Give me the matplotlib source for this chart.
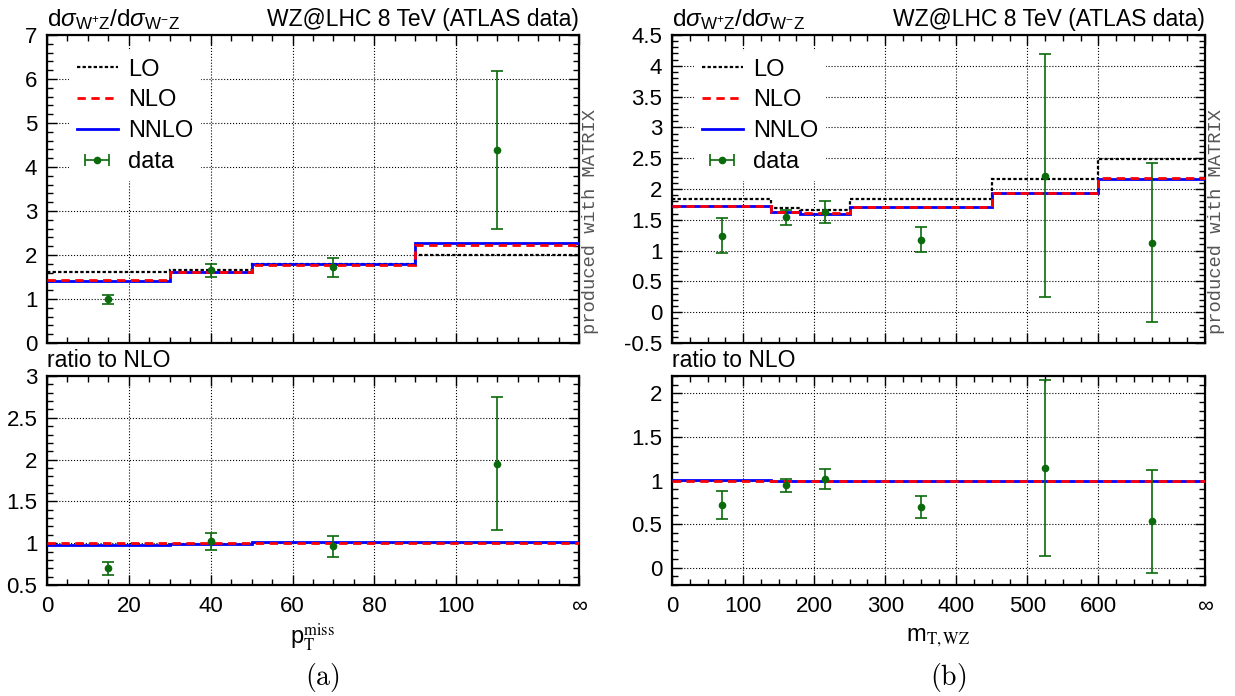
import numpy as np
import matplotlib
matplotlib.use("Agg")
import matplotlib.pyplot as plt
from matplotlib.lines import Line2D
from matplotlib.ticker import FixedLocator, MultipleLocator, FuncFormatter

plt.rcParams['font.family'] = ['Liberation Sans', 'DejaVu Sans']
plt.rcParams['mathtext.fontset'] = 'custom'
plt.rcParams['mathtext.rm'] = 'Liberation Sans'
plt.rcParams['mathtext.it'] = 'Liberation Sans:italic'
plt.rcParams['mathtext.sf'] = 'Liberation Sans'
plt.rcParams['axes.unicode_minus'] = False

# --- (a) missing transverse momentum, last edge stands for infinity
pt_edges = [0, 30, 50, 90, 130]
pt_lo = [1.62, 1.67, 1.79, 2.01]
pt_nlo = [1.43, 1.62, 1.775, 2.23]
pt_nnlo = [1.40, 1.61, 1.79, 2.27]
pt_x = [15, 40, 70, 110]
pt_data = [0.99, 1.65, 1.73, 4.39]
pt_dlo = [0.89, 1.50, 1.51, 2.59]
pt_dhi = [1.10, 1.80, 1.94, 6.19]
pt_rdata = [0.70, 1.024, 0.964, 1.948]
pt_rlo = [0.624, 0.924, 0.84, 1.152]
pt_rhi = [0.776, 1.124, 1.084, 2.744]
pt_xticks = [0, 20, 40, 60, 80, 100, 130]
pt_xlabels = ['0', '20', '40', '60', '80', '100', '∞']

# --- (b) transverse mass of the WZ system
mt_edges = [0, 140, 180, 250, 450, 600, 750]
mt_lo = [1.83, 1.69, 1.66, 1.84, 2.16, 2.49]
mt_nlo = [1.72, 1.63, 1.61, 1.70, 1.93, 2.18]
mt_nnlo = [1.73, 1.62, 1.60, 1.70, 1.93, 2.17]
mt_x = [70, 160, 215, 350, 525, 675]
mt_data = [1.24, 1.54, 1.63, 1.18, 2.21, 1.13]
mt_dlo = [0.955, 1.41, 1.44, 0.97, 0.25, -0.16]
mt_dhi = [1.53, 1.66, 1.81, 1.39, 4.19, 2.42]
mt_rdata = [0.724, 0.945, 1.017, 0.697, 1.143, 0.53]
mt_rlo = [0.56, 0.869, 0.90, 0.575, 0.137, -0.06]
mt_rhi = [0.884, 1.02, 1.13, 0.82, 2.149, 1.12]
mt_xticks = [0, 100, 200, 300, 400, 500, 600, 750]
mt_xlabels = ['0', '100', '200', '300', '400', '500', '600', '∞']

GREEN = '#0b6a0b'
W, H = 1235, 696


def pos(x0, x1, y0, y1):
    # pixel box -> figure fraction
    return [x0 / W, 1 - y1 / H, (x1 - x0) / W, (y1 - y0) / H]


def style(ax, edges, xticks, xminor, ylim, ymajor, yminor):
    ax.set_xlim(edges[0], edges[-1])
    ax.set_ylim(*ylim)
    ax.xaxis.set_major_locator(FixedLocator(xticks))
    ax.xaxis.set_minor_locator(MultipleLocator(xminor))
    ax.yaxis.set_major_locator(FixedLocator(ymajor))
    ax.yaxis.set_minor_locator(MultipleLocator(yminor))
    ax.yaxis.set_major_formatter(FuncFormatter(lambda v, p: f'{v:g}'))
    ax.tick_params(which='both', direction='in', top=True, right=True, width=1.0, labelsize=16)
    ax.tick_params(which='major', length=7)
    ax.tick_params(which='minor', length=4)
    ax.tick_params(axis='y', pad=7)
    ax.tick_params(axis='x', pad=8)
    ax.grid(True, which='major', linestyle=':', color='black', linewidth=0.8)
    for s in ax.spines.values():
        s.set_linewidth(1.6)


def errbars(ax, x, y, lo, hi):
    y = np.array(y)
    yerr = [y - np.array(lo), np.array(hi) - y]
    ax.errorbar(x, y, yerr=yerr, fmt='o', color=GREEN, ms=4.5, elinewidth=1.2,
                capsize=4, capthick=1.2, zorder=5)


def panel(xpix, edges, lo, nlo, nnlo, x, d, dlo, dhi, rd, rlo, rhi,
          xticks, xlabels, xminor, ylim, ymajor, rylim, rymajor, xlabel, tag, tagx):
    ax = fig.add_axes(pos(xpix[0], xpix[1], 35, 343))
    axr = fig.add_axes(pos(xpix[0], xpix[1], 376, 585))

    ax.stairs(lo, edges, baseline=None, color='black', linestyle=(0, (1.5, 1)), linewidth=1.6, zorder=3)
    ax.stairs(nlo, edges, baseline=None, color='red', linestyle=(0, (3, 2)), linewidth=2, zorder=4)
    ax.stairs(nnlo, edges, baseline=None, color='blue', linewidth=2, zorder=3.5)
    errbars(ax, x, d, dlo, dhi)

    handles = [Line2D([], [], color='black', linestyle=(0, (1.5, 1)), linewidth=1.6),
               Line2D([], [], color='red', linestyle=(0, (3, 2)), linewidth=2),
               Line2D([], [], color='blue', linewidth=2),
               ax.errorbar([np.nan], [np.nan], xerr=[1], fmt='o', color=GREEN, ms=4.5,
                           elinewidth=1.2, capsize=4, capthick=1.2)]
    ax.legend(handles, ['LO', 'NLO', 'NNLO', 'data'], loc='upper left',
              bbox_to_anchor=(0.02, 0.985), fontsize=17, frameon=True, facecolor='white',
              edgecolor='none', framealpha=1, fancybox=False, handlelength=1.75,
              handletextpad=0.45, labelspacing=0.38, borderpad=0.3)

    style(ax, edges, xticks, xminor, ylim, ymajor, (ymajor[1] - ymajor[0]) / 5)
    ax.tick_params(labelbottom=False)
    ax.text(0, 1.01, r'd$\sigma_{\mathrm{W^{+}Z}}$/d$\sigma_{\mathrm{W^{-}Z}}$',
            transform=ax.transAxes, ha='left', va='bottom', fontsize=17.5)
    ax.text(1, 1.012, 'WZ@LHC 8 TeV (ATLAS data)', transform=ax.transAxes,
            ha='right', va='bottom', fontsize=16.5)
    ax.text(1.006, 0.03, 'produced with MATRIX', transform=ax.transAxes, rotation=90,
            ha='left', va='bottom', family='Liberation Mono', fontsize=13.5, color='#555555')

    ones = np.ones(len(nlo))
    axr.stairs(ones, edges, baseline=None, color='red', linestyle=(0, (3, 2)), linewidth=2, zorder=4)
    axr.stairs(np.array(nnlo) / np.array(nlo), edges, baseline=None, color='blue', linewidth=2, zorder=3.5)
    errbars(axr, x, rd, rlo, rhi)
    style(axr, edges, xticks, xminor, rylim, rymajor, 0.1)
    axr.set_xticklabels(xlabels)
    axr.text(0, 1.02, 'ratio to NLO', transform=axr.transAxes, ha='left', va='bottom', fontsize=16.5)

    cx = (xpix[0] + xpix[1]) / 2
    fig.text(cx / W, 1 - 638 / H, xlabel, ha='center', va='center', fontsize=17,
             math_fontfamily='stix')
    fig.text(tagx / W, 1 - 677 / H, tag, ha='center', va='center', fontsize=20,
             math_fontfamily='cm')


fig = plt.figure(figsize=(12.35, 6.96), dpi=100)

panel((47, 579), pt_edges, pt_lo, pt_nlo, pt_nnlo, pt_x, pt_data, pt_dlo, pt_dhi,
      pt_rdata, pt_rlo, pt_rhi, pt_xticks, pt_xlabels, 5, (0, 7), np.arange(0, 7.01, 1),
      (0.5, 3), np.arange(0.5, 3.01, 0.5), r'p$_{\mathrm{T}}^{\mathrm{miss}}$',
      r'$\mathrm{(a)}$', 322)

panel((672, 1205), mt_edges, mt_lo, mt_nlo, mt_nnlo, mt_x, mt_data, mt_dlo, mt_dhi,
      mt_rdata, mt_rlo, mt_rhi, mt_xticks, mt_xlabels, 25, (-0.5, 4.5), np.arange(-0.5, 4.51, 0.5),
      (-0.2, 2.2), np.arange(0, 2.01, 0.5), r'm$_{\mathrm{T,WZ}}$',
      r'$\mathrm{(b)}$', 948)

fig.savefig('out.png', dpi=100)
